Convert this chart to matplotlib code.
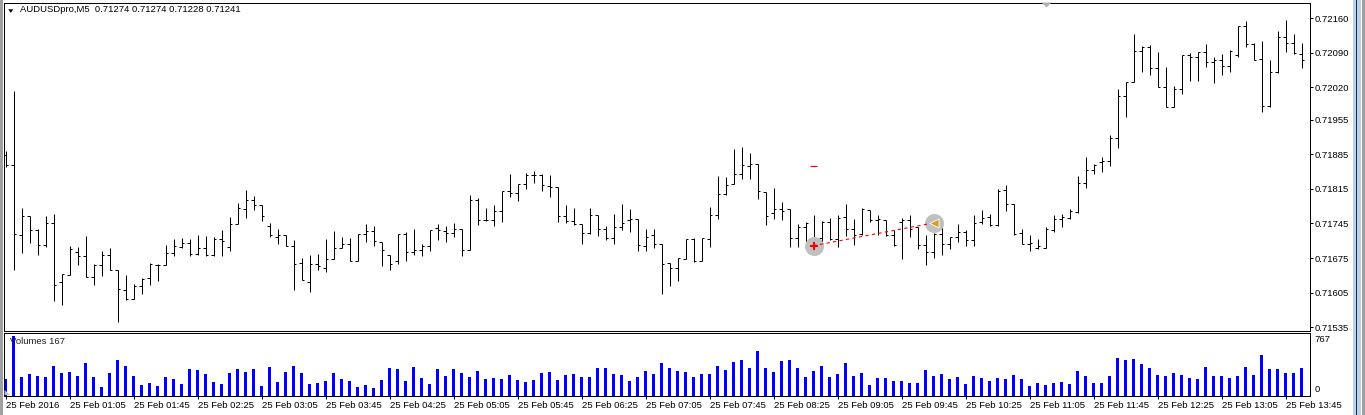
import matplotlib
matplotlib.use("Agg")
import matplotlib.pyplot as plt
from matplotlib.collections import LineCollection
from matplotlib.patches import Polygon, Rectangle

# ---------------- data ----------------
symbol_title = "AUDUSDpro,M5  0.71274 0.71274 0.71228 0.71241"
volume_title = "Volumes 167"

opens = [0.71883, 0.71863, 0.71722, 0.71760, 0.71732, 0.71701, 0.71745, 0.71627, 0.71641, 0.71687,
         0.71679, 0.71637, 0.71660, 0.71682, 0.71650, 0.71610, 0.71592, 0.71619, 0.71635, 0.71661,
         0.71661, 0.71685, 0.71698, 0.71705, 0.71683, 0.71695, 0.71681, 0.71714, 0.71697, 0.71743,
         0.71774, 0.71792, 0.71782, 0.71739, 0.71718, 0.71721, 0.71699, 0.71664, 0.71626, 0.71663,
         0.71655, 0.71674, 0.71696, 0.71703, 0.71670, 0.71723, 0.71730, 0.71707, 0.71681, 0.71668,
         0.71723, 0.71687, 0.71691, 0.71699, 0.71735, 0.71730, 0.71726, 0.71734, 0.71691, 0.71792,
         0.71751, 0.71751, 0.71770, 0.71811, 0.71806, 0.71824, 0.71843, 0.71842, 0.71820, 0.71818,
         0.71761, 0.71750, 0.71743, 0.71725, 0.71763, 0.71733, 0.71716, 0.71737, 0.71752, 0.71753,
         0.71699, 0.71721, 0.71703, 0.71664, 0.71654, 0.71674, 0.71714, 0.71670, 0.71714, 0.71763,
         0.71804, 0.71824, 0.71846, 0.71861, 0.71865, 0.71809, 0.71766, 0.71774, 0.71774, 0.71715,
         0.71737, 0.71705, 0.71715, 0.71747, 0.71714, 0.71757, 0.71734, 0.71723, 0.71772, 0.71752,
         0.71752, 0.71721, 0.71748, 0.71752, 0.71738, 0.71701, 0.71687, 0.71724, 0.71703, 0.71717,
         0.71728, 0.71712, 0.71747, 0.71757, 0.71741, 0.71813, 0.71784, 0.71726, 0.71703, 0.71695,
         0.71696, 0.71732, 0.71753, 0.71756, 0.71769, 0.71826, 0.71854, 0.71869, 0.71871, 0.71917,
         0.72003, 0.72032, 0.72094, 0.72101, 0.72059, 0.72020, 0.71981, 0.72016, 0.72086, 0.72082,
         0.72092, 0.72072, 0.72076, 0.72064, 0.72086, 0.72144, 0.72107, 0.72078, 0.71983, 0.72052,
         0.72122, 0.72111, 0.72087]
highs = [0.71892, 0.72012, 0.71776, 0.71761, 0.71734, 0.71761, 0.71764, 0.71643, 0.71699, 0.71697,
         0.71720, 0.71662, 0.71689, 0.71696, 0.71650, 0.71641, 0.71622, 0.71634, 0.71664, 0.71663,
         0.71701, 0.71714, 0.71715, 0.71714, 0.71721, 0.71719, 0.71717, 0.71732, 0.71757, 0.71786,
         0.71812, 0.71800, 0.71782, 0.71745, 0.71733, 0.71721, 0.71712, 0.71676, 0.71682, 0.71683,
         0.71714, 0.71730, 0.71718, 0.71715, 0.71723, 0.71743, 0.71739, 0.71708, 0.71681, 0.71723,
         0.71727, 0.71734, 0.71703, 0.71732, 0.71743, 0.71740, 0.71745, 0.71734, 0.71802, 0.71796,
         0.71776, 0.71782, 0.71811, 0.71846, 0.71824, 0.71848, 0.71851, 0.71846, 0.71842, 0.71818,
         0.71782, 0.71776, 0.71743, 0.71776, 0.71763, 0.71740, 0.71765, 0.71784, 0.71774, 0.71753,
         0.71734, 0.71734, 0.71703, 0.71664, 0.71676, 0.71714, 0.71715, 0.71715, 0.71778, 0.71841,
         0.71839, 0.71896, 0.71900, 0.71888, 0.71865, 0.71809, 0.71817, 0.71788, 0.71774, 0.71743,
         0.71747, 0.71762, 0.71750, 0.71755, 0.71762, 0.71784, 0.71753, 0.71776, 0.71772, 0.71762,
         0.71752, 0.71732, 0.71755, 0.71762, 0.71738, 0.71722, 0.71725, 0.71745, 0.71717, 0.71743,
         0.71732, 0.71762, 0.71772, 0.71765, 0.71815, 0.71823, 0.71784, 0.71733, 0.71722, 0.71714,
         0.71737, 0.71762, 0.71765, 0.71775, 0.71841, 0.71880, 0.71865, 0.71880, 0.71924, 0.72016,
         0.72032, 0.72128, 0.72103, 0.72106, 0.72092, 0.72062, 0.72023, 0.72086, 0.72089, 0.72092,
         0.72108, 0.72082, 0.72088, 0.72096, 0.72144, 0.72155, 0.72109, 0.72114, 0.72076, 0.72134,
         0.72157, 0.72128, 0.72111]
lows = [0.71859, 0.71651, 0.71686, 0.71706, 0.71682, 0.71698, 0.71589, 0.71579, 0.71640, 0.71660,
        0.71637, 0.71620, 0.71639, 0.71650, 0.71546, 0.71590, 0.71592, 0.71602, 0.71620, 0.71629,
        0.71661, 0.71680, 0.71695, 0.71680, 0.71682, 0.71679, 0.71679, 0.71679, 0.71690, 0.71743,
        0.71755, 0.71772, 0.71749, 0.71718, 0.71704, 0.71699, 0.71611, 0.71630, 0.71607, 0.71651,
        0.71647, 0.71674, 0.71696, 0.71670, 0.71670, 0.71708, 0.71699, 0.71658, 0.71650, 0.71662,
        0.71668, 0.71681, 0.71679, 0.71689, 0.71711, 0.71707, 0.71718, 0.71679, 0.71691, 0.71741,
        0.71750, 0.71740, 0.71748, 0.71799, 0.71791, 0.71815, 0.71826, 0.71811, 0.71799, 0.71748,
        0.71746, 0.71742, 0.71704, 0.71724, 0.71720, 0.71711, 0.71704, 0.71732, 0.71728, 0.71690,
        0.71690, 0.71696, 0.71603, 0.71619, 0.71629, 0.71674, 0.71666, 0.71670, 0.71698, 0.71754,
        0.71803, 0.71824, 0.71834, 0.71834, 0.71795, 0.71742, 0.71754, 0.71751, 0.71698, 0.71698,
        0.71701, 0.71693, 0.71703, 0.71712, 0.71698, 0.71720, 0.71701, 0.71722, 0.71747, 0.71722,
        0.71720, 0.71700, 0.71674, 0.71718, 0.71693, 0.71661, 0.71676, 0.71682, 0.71693, 0.71708,
        0.71700, 0.71700, 0.71743, 0.71740, 0.71740, 0.71771, 0.71721, 0.71703, 0.71690, 0.71693,
        0.71696, 0.71727, 0.71738, 0.71754, 0.71767, 0.71816, 0.71846, 0.71850, 0.71862, 0.71898,
        0.71961, 0.72032, 0.72052, 0.72045, 0.72020, 0.71980, 0.71980, 0.72006, 0.72034, 0.72034,
        0.72062, 0.72030, 0.72045, 0.72051, 0.72081, 0.72101, 0.72076, 0.71971, 0.71981, 0.72050,
        0.72092, 0.72088, 0.72060]
closes = [0.71863, 0.71723, 0.71760, 0.71732, 0.71701, 0.71745, 0.71620, 0.71643, 0.71693, 0.71679,
          0.71637, 0.71660, 0.71681, 0.71650, 0.71612, 0.71592, 0.71619, 0.71633, 0.71663, 0.71661,
          0.71685, 0.71699, 0.71705, 0.71683, 0.71695, 0.71681, 0.71714, 0.71709, 0.71743, 0.71776,
          0.71792, 0.71782, 0.71761, 0.71721, 0.71721, 0.71699, 0.71662, 0.71630, 0.71663, 0.71658,
          0.71674, 0.71695, 0.71703, 0.71670, 0.71723, 0.71730, 0.71709, 0.71691, 0.71662, 0.71723,
          0.71687, 0.71691, 0.71699, 0.71732, 0.71732, 0.71726, 0.71733, 0.71691, 0.71792, 0.71751,
          0.71751, 0.71770, 0.71811, 0.71806, 0.71824, 0.71843, 0.71842, 0.71822, 0.71819, 0.71761,
          0.71750, 0.71743, 0.71725, 0.71763, 0.71733, 0.71716, 0.71737, 0.71745, 0.71753, 0.71701,
          0.71718, 0.71703, 0.71662, 0.71655, 0.71676, 0.71714, 0.71670, 0.71715, 0.71763, 0.71804,
          0.71823, 0.71846, 0.71863, 0.71866, 0.71810, 0.71760, 0.71774, 0.71770, 0.71715, 0.71737,
          0.71746, 0.71715, 0.71747, 0.71714, 0.71755, 0.71734, 0.71721, 0.71774, 0.71752, 0.71753,
          0.71722, 0.71701, 0.71751, 0.71733, 0.71701, 0.71687, 0.71723, 0.71703, 0.71717, 0.71728,
          0.71712, 0.71745, 0.71755, 0.71741, 0.71811, 0.71784, 0.71723, 0.71703, 0.71705, 0.71699,
          0.71734, 0.71753, 0.71757, 0.71771, 0.71826, 0.71854, 0.71863, 0.71871, 0.71917, 0.72003,
          0.72032, 0.72094, 0.72101, 0.72059, 0.72020, 0.71981, 0.72016, 0.72086, 0.72082, 0.72092,
          0.72072, 0.72076, 0.72064, 0.72094, 0.72144, 0.72107, 0.72076, 0.71983, 0.72052, 0.72122,
          0.72111, 0.72089, 0.72076]
volumes = [217, 767, 238, 273, 247, 234, 377, 286, 299, 247,
           416, 234, 104, 286, 455, 377, 247, 130, 156, 117,
           234, 208, 143, 338, 325, 273, 169, 143, 286, 338,
           299, 338, 117, 364, 169, 299, 377, 286, 143, 156,
           182, 286, 208, 182, 104, 130, 91, 195, 351, 338,
           182, 364, 221, 143, 338, 247, 338, 286, 234, 312,
           208, 221, 208, 260, 195, 169, 195, 286, 299, 195,
           260, 273, 234, 234, 351, 351, 273, 260, 182, 234,
           312, 273, 416, 351, 312, 299, 234, 273, 273, 377,
           325, 429, 455, 351, 572, 351, 299, 442, 455, 351,
           234, 312, 377, 234, 273, 416, 247, 286, 130, 221,
           221, 182, 182, 156, 156, 325, 247, 273, 208, 234,
           143, 247, 221, 182, 221, 208, 260, 208, 117, 156,
           130, 156, 169, 143, 312, 247, 156, 156, 247, 481,
           455, 468, 403, 351, 260, 247, 286, 260, 221, 208,
           364, 247, 247, 221, 247, 364, 260, 520, 338, 338,
           286, 286, 351]

price_ticks = [0.72160, 0.72090, 0.72020, 0.71955, 0.71885, 0.71815,
               0.71745, 0.71675, 0.71605, 0.71535]
time_tick_bars = [0, 8, 16, 24, 32, 40, 48, 56, 64, 72, 80, 88, 96,
                  104, 112, 120, 128, 136, 144, 152, 160]
time_tick_labels = ["25 Feb 2016", "25 Feb 01:05", "25 Feb 01:45", "25 Feb 02:25",
                    "25 Feb 03:05", "25 Feb 03:45", "25 Feb 04:25", "25 Feb 05:05",
                    "25 Feb 05:45", "25 Feb 06:25", "25 Feb 07:05", "25 Feb 07:45",
                    "25 Feb 08:25", "25 Feb 09:05", "25 Feb 09:45", "25 Feb 10:25",
                    "25 Feb 11:05", "25 Feb 11:45", "25 Feb 12:25", "25 Feb 13:05",
                    "25 Feb 13:45"]
volume_axis_max = 767

trade_bars = [101, 116]
trade_prices = [0.71700, 0.71746]
stop_bar = 101
stop_price = 0.71861

# ---------------- figure ----------------
W, H, DPI = 1365, 415, 100
PX = 72.0 / DPI
FONT = ['Liberation Sans', 'DejaVu Sans']
FS = 6.8
plt.rcParams['font.family'] = FONT

fig = plt.figure(figsize=(W / DPI, H / DPI), dpi=DPI)
fig.patch.set_facecolor('white')


def rect(x0, y0, x1, y1):
    return [x0 / W, 1 - y1 / H, (x1 - x0) / W, (y1 - y0) / H]


ax = fig.add_axes(rect(3.5, 2.5, 1309.5, 330.5))
axv = fig.add_axes(rect(3.5, 332.5, 1309.5, 395.5))

n = len(opens)
xlim = (-0.25, 163.0)
for a in (ax, axv):
    a.set_xlim(*xlim)
    a.set_facecolor('white')
    for s in a.spines.values():
        s.set_color('black')
        s.set_linewidth(PX)

ax.set_ylim(0.715284, 0.7219194)

# OHLC bars
tick = 0.32
segs = []
for i in range(n):
    segs.append([(i, lows[i]), (i, highs[i])])
    segs.append([(i - tick, opens[i]), (i, opens[i])])
    segs.append([(i, closes[i]), (i + tick, closes[i])])
lc = LineCollection(segs, colors='black', linewidths=PX, antialiaseds=True,
                    capstyle='butt')
ax.add_collection(lc)

ax.set_xticks([])
ax.yaxis.tick_right()
ax.set_yticks(price_ticks)
ax.set_yticklabels([f"{p:.5f}" for p in price_ticks])
ax.tick_params(axis='y', direction='out', length=3 * PX, width=PX, pad=2.5 * PX,
               labelsize=FS, colors='black')

# trade annotations
ax.scatter(trade_bars, trade_prices, s=(19 * PX) ** 2, color='#c0c0c0', zorder=3,
           linewidths=0)
ax.plot(trade_bars, trade_prices, color='red', linewidth=1.1 * PX, linestyle=(0, (3, 3)),
        zorder=4)
ax.scatter([trade_bars[0]], [trade_prices[0]], marker='P', s=(8 * PX) ** 2, color='red',
           linewidths=0, zorder=5)
ax.scatter([trade_bars[1]], [trade_prices[1]], marker='<', s=(9 * PX) ** 2, color='#d4a020',
           edgecolors='white', linewidths=0.6, zorder=5)
ax.plot([stop_bar - 0.45, stop_bar + 0.45], [stop_price, stop_price], color='red',
        linewidth=1.2 * PX, solid_capstyle='butt', zorder=4)

# volumes
axv.bar(range(n), volumes, width=0.375, color='#0000ff', linewidth=0, zorder=2,
        antialiased=False)
axv.set_ylim(0, 812)
axv.set_yticks([])
axv.set_xticks(time_tick_bars)
axv.set_xticklabels(time_tick_labels, ha='left')
axv.tick_params(axis='x', direction='out', length=3 * PX, width=PX, pad=2 * PX,
                labelsize=FS, colors='black')
for lbl in axv.get_xticklabels():
    lbl.set_x(lbl.get_position()[0])

# text
fig.text(20.5 / W, 1 - 10 / H, symbol_title, fontsize=FS, va='center', ha='left')
fig.text(9.5 / W, 1 - 341.5 / H, volume_title, fontsize=FS, va='center', ha='left',
         color='#202020', zorder=0.5)
fig.text(1314.5 / W, 1 - 340 / H, str(volume_axis_max), fontsize=FS, va='center', ha='left')
fig.text(1314.5 / W, 1 - 389 / H, "0", fontsize=FS, va='center', ha='left')

# overlay for window chrome
ov = fig.add_axes([0, 0, 1, 1], zorder=10)
ov.set_xlim(0, W)
ov.set_ylim(H, 0)
ov.axis('off')
ov.patch.set_alpha(0)
ov.add_patch(Polygon([(8.3, 9.3), (13.3, 9.3), (10.8, 12.8)], closed=True,
                     color='black', linewidth=0))
ov.add_patch(Polygon([(1041.5, 2.5), (1051.5, 2.5), (1046.5, 7.5)], closed=True,
                     color='#b0b0b0', linewidth=0))
ov.add_patch(Polygon([(4.5, 395), (10, 395), (4.5, 390)], closed=True,
                     color='#c0c0c0', linewidth=0))
ov.add_patch(Rectangle((0, 0), 2.6, H, color='#a0a0a0', linewidth=0))
ov.add_patch(Rectangle((1352.7, 0), 8.0, H, color='#b9d1ea', linewidth=0))
ov.add_patch(Rectangle((1356.0, 0), 1.2, H, color='#203040', linewidth=0))
ov.add_patch(Rectangle((1362.0, 0), 3.0, H, color='#a0a0a0', linewidth=0))

fig.savefig('out.png', dpi=DPI, facecolor='white')
